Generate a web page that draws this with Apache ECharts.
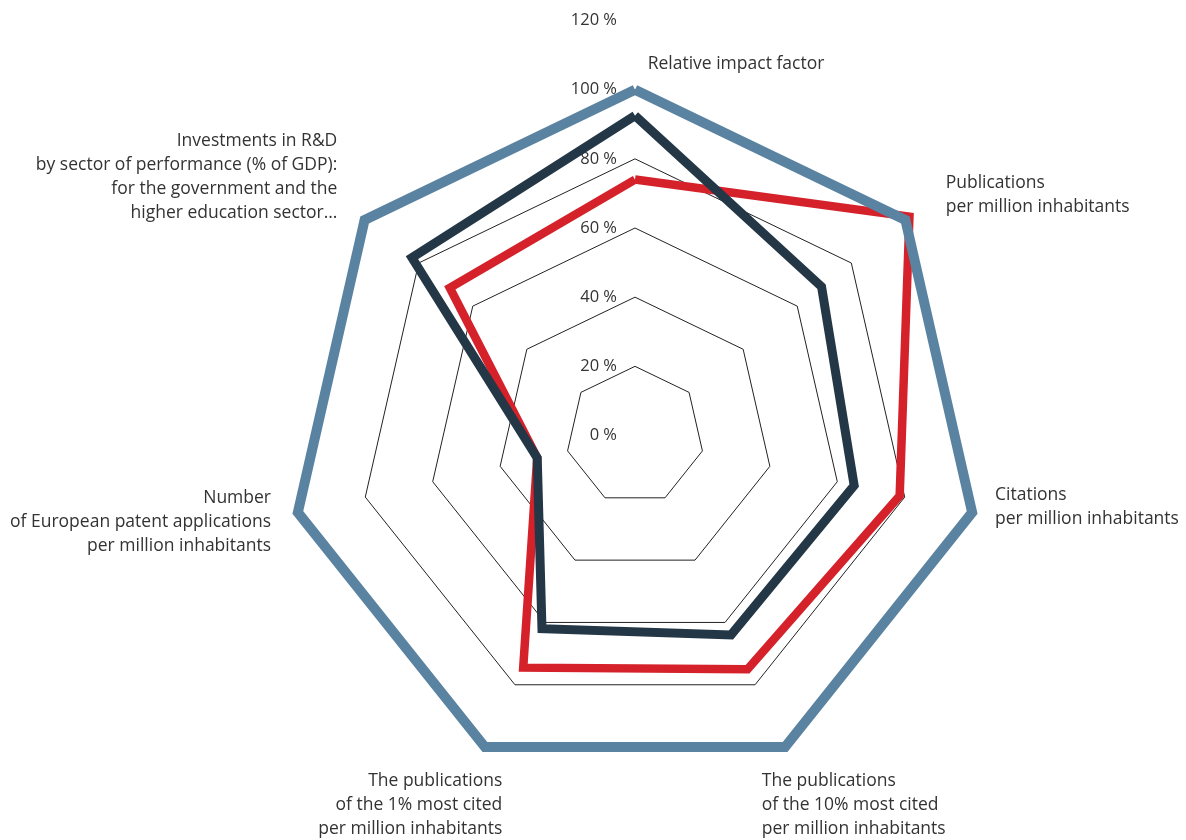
<!DOCTYPE html>
<html>
<head>
<meta charset="utf-8">
<title>Radar</title>
<script src="https://cdn.jsdelivr.net/npm/echarts@6/dist/echarts.min.js"></script>
<style>
  html, body { margin: 0; padding: 0; background: #fff; }
  #main { width: 1186px; height: 840px; }
</style>
</head>
<body>
<div id="main"></div>
<script>
  // indicators, counter-clockwise from the top (ECharts order)
  var indicatorNames = [
    'Relative impact factor',
    'Investments in R&D\nby sector of performance (% of GDP):\nfor the government and the\nhigher education sector…',
    'Number\nof European patent applications\nper million inhabitants',
    'The publications\nof the 1% most cited\nper million inhabitants',
    'The publications\nof the 10% most cited\nper million inhabitants',
    'Citations\nper million inhabitants',
    'Publications\nper million inhabitants'
  ];
  var axisMax = 120;
  var tickStep = 20;

  var redValues = [74, 68.5, 29, 74.5, 75, 78.5, 101.5];
  var navyValues = [92.5, 82.5, 29, 62, 64, 65, 69];
  var outerValues = [100, 100, 100, 100, 100, 100, 100];

  // label nudges [dx, dy] and which side the text hangs from
  var nameShift = [[101, 0], [-17, -35], [-14, 7], [23, 46], [-29, 46], [10, -8], [30, -17]];
  var nameSide = ['c', 'r', 'r', 'r', 'l', 'l', 'l'];

  var font = 'Open Sans';
  var textColor = '#333';

  var rich = {};
  indicatorNames.forEach(function (n, i) {
    var dx = nameShift[i][0], dy = nameShift[i][1];
    var l = 0, r = 0;
    if (nameSide[i] === 'l') l = dx;
    else if (nameSide[i] === 'r') r = -dx;
    else if (dx > 0) l = 2 * dx; else r = -2 * dx;
    var t = dy > 0 ? 2 * dy : 0, b = dy < 0 ? -2 * dy : 0;
    var base = {fontFamily: font, fontSize: 17.5, color: textColor};
    rich['a' + i] = Object.assign({padding: [t, r, 0, l], lineHeight: 24 + t}, base);
    rich['m' + i] = Object.assign({padding: [0, r, 0, l], lineHeight: 24}, base);
    rich['z' + i] = Object.assign({padding: [0, r, b, l], lineHeight: 24 + b}, base);
    rich['s' + i] = Object.assign({padding: [t, r, b, l], lineHeight: 24 + t + b}, base);
  });

  function nameFormatter(name) {
    var i = indicatorNames.indexOf(name);
    var lines = name.split('\n');
    if (lines.length === 1) return '{s' + i + '|' + name + '}';
    return lines.map(function (line, k) {
      var key = k === 0 ? 'a' : (k === lines.length - 1 ? 'z' : 'm');
      return '{' + key + i + '|' + line + '}';
    }).join('\n');
  }

  var indicator = indicatorNames.map(function (n, i) {
    var item = {name: n, min: 0, max: axisMax};
    if (i === 0) {
      item.axisLabel = {
        show: true,
        formatter: '{value} %',
        fontFamily: font,
        fontSize: 16.5,
        color: textColor,
        margin: 18
      };
    }
    return item;
  });

  var ringColors = [];
  for (var v = 0; v <= axisMax; v += tickStep) {
    ringColors.push(v < axisMax ? '#222' : 'rgba(0,0,0,0)');
  }

  var myChart = echarts.init(document.getElementById('main'));
  var option = {
    backgroundColor: '#fff',
    animation: false,
    radar: {
      center: [635, 435.5],
      radius: 415,
      startAngle: 90,
      shape: 'polygon',
      splitNumber: axisMax / tickStep,
      indicator: indicator,
      nameGap: -56,
      axisName: {
        formatter: nameFormatter,
        fontFamily: font,
        fontSize: 17.5,
        lineHeight: 24,
        color: textColor,
        rich: rich
      },
      axisLine: {show: false},
      axisTick: {show: false},
      splitArea: {show: false},
      splitLine: {
        lineStyle: {color: ringColors, width: 1}
      }
    },
    series: [
      {
        type: 'radar',
        symbol: 'none',
        silent: true,
        data: [
          {
            name: 'Red',
            value: redValues,
            lineStyle: {color: '#d4212a', width: 8.5, join: 'miter'}
          },
          {
            name: 'Navy',
            value: navyValues,
            lineStyle: {color: '#243746', width: 9, join: 'miter'}
          },
          {
            name: 'Outer',
            value: outerValues,
            lineStyle: {color: '#5a83a1', width: 10, join: 'miter'}
          }
        ]
      }
    ]
  };
  myChart.setOption(option);
</script>
</body>
</html>
